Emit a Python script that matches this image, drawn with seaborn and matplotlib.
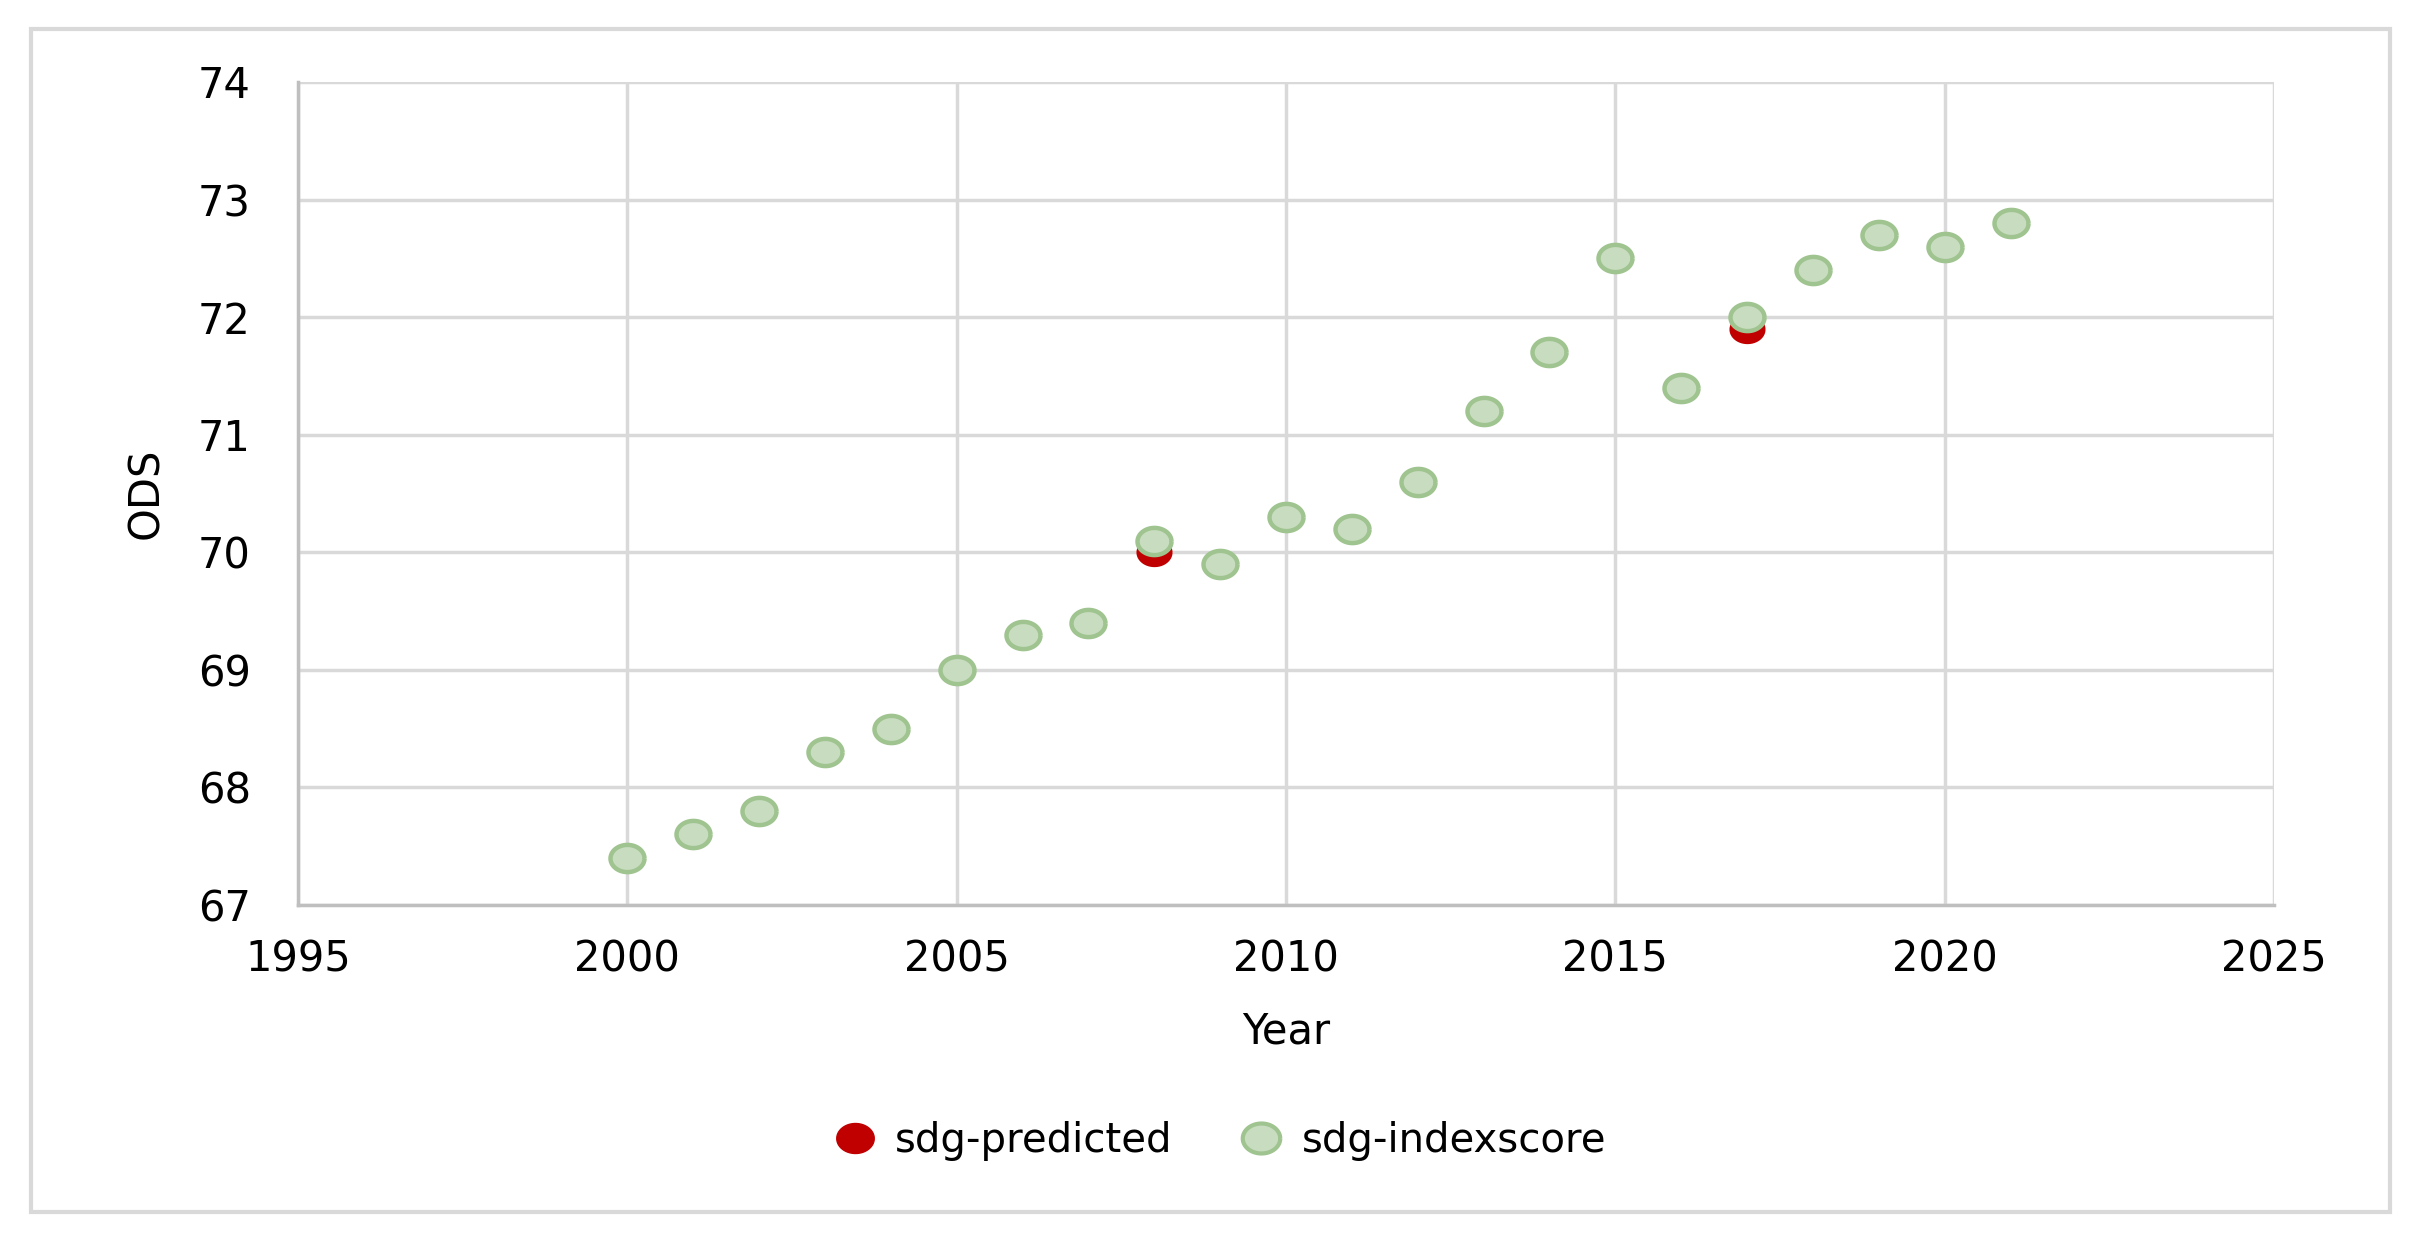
import numpy as np
import pandas as pd
import matplotlib
matplotlib.use("Agg")
import matplotlib.pyplot as plt
from matplotlib.path import Path
from matplotlib.patches import Rectangle
from matplotlib.lines import Line2D
import seaborn as sns

years = [2000, 2001, 2002, 2003, 2004, 2005, 2006, 2007, 2008, 2009, 2010,
         2011, 2012, 2013, 2014, 2015, 2016, 2017, 2018, 2019, 2020, 2021]
index_score = [67.4, 67.6, 67.8, 68.3, 68.5, 69.0, 69.3, 69.4, 70.1, 69.9, 70.3,
               70.2, 70.6, 71.2, 71.7, 72.5, 71.4, 72.0, 72.4, 72.7, 72.6, 72.8]
pred_years = [2008, 2017]
predicted = [70.0, 71.9]
x_ticks = [1995, 2000, 2005, 2010, 2015, 2020, 2025]
y_ticks = [67, 68, 69, 70, 71, 72, 73, 74]

sns.set_theme(style="white")
plt.rcParams['font.family'] = ['DejaVu Sans']
plt.rcParams['text.color'] = 'black'
plt.rcParams['axes.labelcolor'] = 'black'

df_pred = pd.DataFrame({"Year": pred_years, "ODS": predicted, "series": "sdg-predicted"})
df_idx = pd.DataFrame({"Year": years, "ODS": index_score, "series": "sdg-indexscore"})

W, H = 2421, 1247
fig = plt.figure(figsize=(W / 100, H / 100), dpi=100)
ax = fig.add_axes([298 / W, 1 - 905 / H, (2274 - 298) / W, (905 - 82) / H])

t = np.linspace(0, 2 * np.pi, 60)
ell = Path(np.column_stack([np.cos(t), 0.8 * np.sin(t)]))

sns.scatterplot(data=df_pred, x="Year", y="ODS", ax=ax, color="#c00000",
                marker=ell, s=600, edgecolor="#c00000", linewidth=1.5,
                zorder=3, legend=False)
sns.scatterplot(data=df_idx, x="Year", y="ODS", ax=ax, color="#c8dcc0",
                marker=ell, s=600, edgecolor="#9fc48f", linewidth=3.2,
                zorder=4, legend=False)

ax.set_xlim(1995, 2025)
ax.set_ylim(67, 74)
ax.set_xticks(x_ticks)
ax.set_yticks(y_ticks)
ax.grid(True, color="#d9d9d9", linewidth=2.5)
ax.set_axisbelow(True)
for side in ["top", "right"]:
    ax.spines[side].set_visible(False)
for side in ["left", "bottom"]:
    ax.spines[side].set_color("#bfbfbf")
    ax.spines[side].set_linewidth(2.5)
ax.tick_params(axis="both", length=0, labelsize=30, colors="black")
ax.tick_params(axis="y", pad=34)
ax.tick_params(axis="x", pad=24)
ax.set_xlabel("Year", fontsize=30, labelpad=22)
ax.set_ylabel("ODS", fontsize=30, labelpad=22)

handles = [
    Line2D([], [], linestyle="none", marker=ell, markersize=27,
           markerfacecolor="#c00000", markeredgecolor="#c00000"),
    Line2D([], [], linestyle="none", marker=ell, markersize=27,
           markerfacecolor="#c8dcc0", markeredgecolor="#9fc48f", markeredgewidth=3),
]
fig.legend(handles, ["sdg-predicted", "sdg-indexscore"], loc="center",
           bbox_to_anchor=(0.5, 1 - 1141 / H), ncol=2, frameon=False,
           fontsize=29, handletextpad=0.0, columnspacing=1.2)

fig.patches.append(Rectangle((31 / W, 1 - 1212 / H), (2390 - 31) / W, (1212 - 29) / H,
                             transform=fig.transFigure, fill=False,
                             edgecolor="#d9d9d9", linewidth=3))

fig.savefig("out.png", dpi=100)
